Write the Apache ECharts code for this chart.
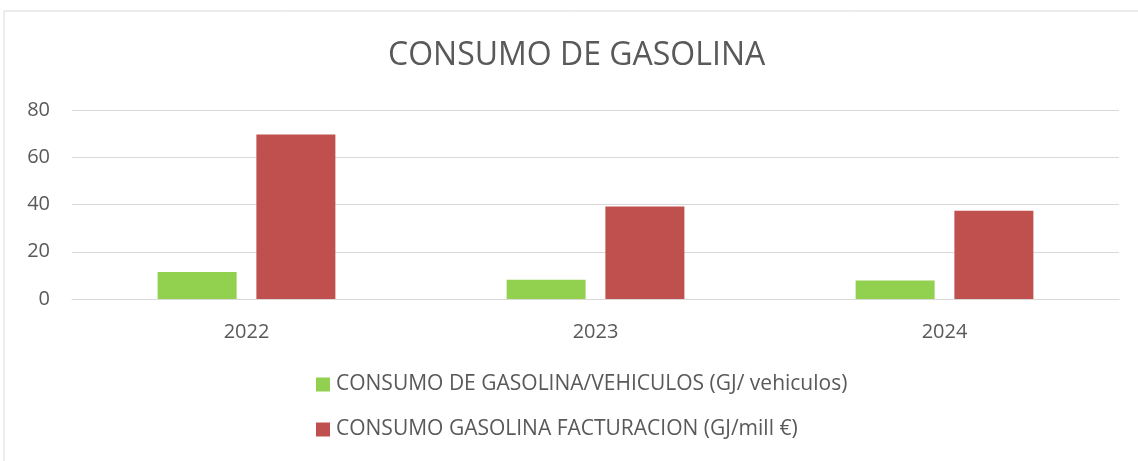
<!DOCTYPE html>
<html>
<head>
<meta charset="utf-8">
<script src="https://cdn.jsdelivr.net/npm/echarts@6/dist/echarts.min.js"></script>
<style>
  html, body { margin: 0; padding: 0; background: #fff; }
  #chart { width: 1138px; height: 461px; }
</style>
</head>
<body>
<div id="chart"></div>
<script>
const years = ['2022', '2023', '2024']
const seriesNames = ['CONSUMO DE GASOLINA/VEHICULOS (GJ/ vehiculos)', 'CONSUMO GASOLINA FACTURACION (GJ/mill €)']
const vehiculos = [11.4, 8.2, 7.8]
const facturacion = [69.6, 39.2, 37.4]

const chart = echarts.init(document.getElementById('chart'))
const font = '"Open Sans", sans-serif'
chart.setOption({
  animation: false,
  textStyle: { fontFamily: font },
  graphic: [{
    type: 'rect',
    shape: { x: 4, y: 11, width: 1140, height: 460 },
    style: { fill: 'none', stroke: '#d9d9d9', lineWidth: 1 }
  }],
  title: {
    text: 'CONSUMO DE GASOLINA',
    left: 383,
    top: 35,
    textStyle: { fontFamily: font, fontSize: 32, fontWeight: 'normal', color: '#595959' }
  },
  grid: { left: 72, right: 19, top: 110, bottom: 162 },
  xAxis: {
    type: 'category',
    data: years,
    axisTick: { show: false },
    axisLine: { lineStyle: { color: '#d9d9d9', width: 1 } },
    axisLabel: { color: '#595959', fontSize: 20, margin: 23 }
  },
  yAxis: {
    type: 'value',
    min: 0,
    max: 80,
    interval: 20,
    axisLine: { show: false },
    axisTick: { show: false },
    splitLine: { lineStyle: { color: '#d9d9d9', width: 1 } },
    axisLabel: { color: '#595959', fontSize: 20, margin: 22 }
  },
  legend: {
    orient: 'vertical',
    left: 311,
    top: 369,
    itemGap: 24,
    itemWidth: 14,
    itemHeight: 14,
    icon: 'rect',
    textStyle: { color: '#595959', fontSize: 21, padding: [0, 0, 0, 1] },
    data: seriesNames
  },
  series: [{
    name: seriesNames[0],
    type: 'bar',
    data: vehiculos,
    barWidth: 79,
    barGap: '25%',
    itemStyle: { color: '#92D050' }
  }, {
    name: seriesNames[1],
    type: 'bar',
    data: facturacion,
    barWidth: 79,
    itemStyle: { color: '#C0504D' }
  }]
})
</script>
</body>
</html>
